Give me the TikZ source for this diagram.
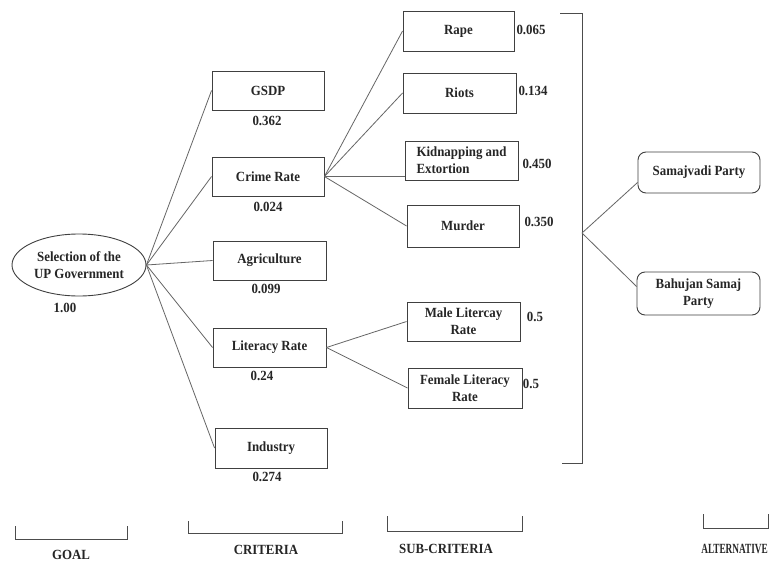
\documentclass[tikz,border=0pt]{standalone}
\usepackage{fontspec}
\setmainfont{Liberation Serif}[FakeStretch=0.92]
\usetikzlibrary{shapes.geometric,calc}
\begin{document}
\begin{tikzpicture}[x=1pt,y=-1pt,
  txt/.style={font=\bfseries\fontsize{14}{17}\selectfont, text=black!85},
  box/.style={txt, draw=black!75, line width=0.9pt, rectangle, inner sep=0pt, align=center},
  altbox/.style={box, rounded corners=8pt},
  num/.style={txt, inner sep=0pt},
  link/.style={draw=black!60, line width=0.8pt},
  brk/.style={draw=black!70, line width=1pt}]
\useasboundingbox[fill=white] (0,0) rectangle (769,562);

% goal
\node[txt, draw=black!75, line width=0.9pt, ellipse, inner sep=0pt, align=center,
      minimum width=134pt, minimum height=62pt] (goal) at (79,265) {Selection of the\\UP Government};
\node[num] (goalw) at (65,308) {1.00};

% criteria
\node[box, minimum width=112pt, minimum height=39pt] (gsdp) at (268,90.5) {GSDP};
\node[box, minimum width=112pt, minimum height=39pt] (crime) at (268,176.5) {Crime Rate};
\node[box, minimum width=113pt, minimum height=39pt] (agri) at (269.5,260.5) {Agriculture};
\node[box, minimum width=113pt, minimum height=39pt] (lit) at (269.5,347.5) {Literacy Rate};
\node[box, minimum width=112pt, minimum height=40pt] (ind) at (271,448) {Industry};

\node[num] (gsdpw) at (267,121) {0.362};
\node[num] (crimew) at (268,207) {0.024};
\node[num] (agriw) at (266,289) {0.099};
\node[num] (litw) at (262,376) {0.24};
\node[num] (indw) at (267,477) {0.274};

% sub-criteria
\node[box, minimum width=111pt, minimum height=40pt] (rape) at (458.5,31) {Rape};
\node[box, minimum width=113pt, minimum height=40pt] (riots) at (459.5,93) {Riots};
\node[box, minimum width=113pt, minimum height=39pt, align=left] (kid) at (461.5,160.5) {Kidnapping and\\Extortion};
\node[box, minimum width=112pt, minimum height=42pt] (murder) at (463,226) {Murder};
\node[box, minimum width=113pt, minimum height=39pt] (male) at (463.5,321.5) {Male Litercay\\Rate};
\node[box, minimum width=114pt, minimum height=40pt] (female) at (465,388) {Female Literacy\\Rate};

\node[num] (rapew) at (531,30) {0.065};
\node[num] (riotsw) at (533,91) {0.134};
\node[num] (kidw) at (537,164) {0.450};
\node[num] (murderw) at (539,222) {0.350};
\node[num] (malew) at (535,317) {0.5};
\node[num] (femalew) at (531,384) {0.5};

% alternatives
\node[altbox, minimum width=122pt, minimum height=41pt] (sp) at (699,172.5) {Samajvadi Party};
\node[altbox, minimum width=123pt, minimum height=43pt] (bsp) at (698.5,293.5) {Bahujan Samaj\\Party};

% links goal -> criteria
\foreach \c in {gsdp,crime,agri,lit,ind}
  \draw[link] (goal.east) -- (\c.west);
% crime -> sub
\draw[link] (crime.east) -- (rape.west);
\draw[link] (crime.east) -- (riots.west);
\draw[link] (crime.east) -- (crime.east -| kid.west);
\draw[link] (crime.east) -- (murder.west);
% literacy -> sub
\draw[link] (lit.east) -- (male.west);
\draw[link] (lit.east) -- (female.west);

% bracket
\coordinate (bt) at (560,13);
\coordinate (btr) at (582,13);
\coordinate (bbr) at (582,463);
\coordinate (bb) at (562,463);
\coordinate (branch) at (582,233);
\draw[brk] (bt) -- (btr) -- (bbr) -- (bb);
\draw[link] (branch) -- ([yshift=-10pt]sp.west);
\draw[link] (branch) -- ([yshift=7pt]bsp.west);

% level brackets
\draw[brk] (15,526) -- (15,539) -- (127,539) -- (127,526);
\draw[brk] (188,521) -- (188,533) -- (342,533) -- (342,521);
\draw[brk] (387,516) -- (387,531) -- (522,531) -- (522,516);
\draw[brk] (703,514) -- (703,528) -- (768.5,528) -- (768.5,514);
\node[num] (lgoal) at (71,555) {GOAL};
\node[num] (lcrit) at (266,550) {CRITERIA};
\node[num] (lsub) at (446,549) {SUB-CRITERIA};
\node[num, anchor=east] (lalt) at (768,549) {\scalebox{0.72}[1]{ALTERNATIVE}};
\end{tikzpicture}
\end{document}
